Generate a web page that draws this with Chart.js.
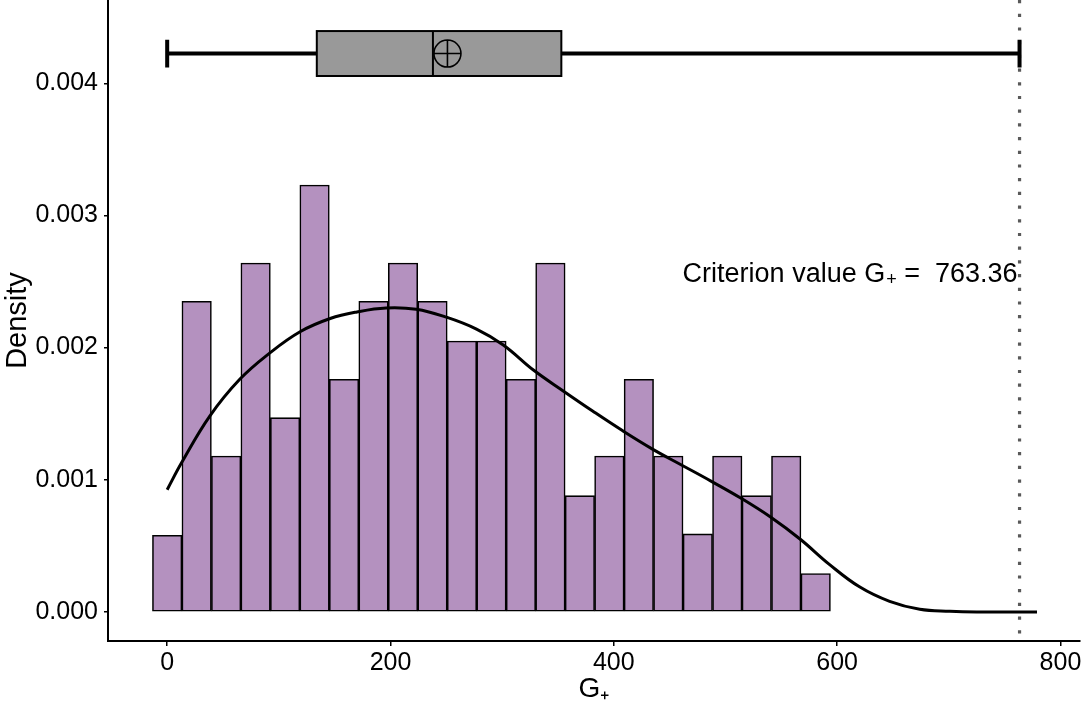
<!DOCTYPE html>
<html>
<head>
<meta charset="utf-8">
<script src="https://cdn.jsdelivr.net/npm/chart.js@4.4.0/dist/chart.umd.min.js"></script>
<style>
  body { margin: 0; background: #fff; }
  #chart { display: block; }
</style>
</head>
<body>
<canvas id="chart" width="1084" height="706"></canvas>
<script>
// histogram bins (mid points) and their densities
const binMids = [0, 26.4, 52.8, 79.2, 105.6, 132, 158.4, 184.8, 211.2, 237.6, 264, 290.4,
  316.8, 343.2, 369.6, 396, 422.4, 448.8, 475.2, 501.6, 528, 554.4, 580.8];
const binDensity = [0.00058, 0.00235, 0.00118, 0.00264, 0.00147, 0.00323, 0.00176, 0.00235,
  0.00264, 0.00235, 0.00205, 0.00205, 0.00176, 0.00264, 0.00088, 0.00118, 0.00176, 0.00118,
  0.00059, 0.00118, 0.00088, 0.00118, 0.00029];

// kernel density curve
const curveX = [0, 13, 38, 65, 92, 119, 146, 170, 196, 223, 250, 277, 301, 328, 355, 381,
  408, 435, 461, 487, 514, 540, 567, 593, 620, 647, 674, 701, 725, 779];
const curveY = [0.000925, 0.00113, 0.00148, 0.00176, 0.00196, 0.00212, 0.00222, 0.00227,
  0.0023, 0.00229, 0.00223, 0.00214, 0.00202, 0.00183, 0.00167, 0.00152, 0.00137, 0.00123,
  0.00111, 0.00099, 0.00086, 0.00072, 0.00055, 0.00036, 0.00019, 0.00008, 0.00002,
  0.000005, 0, 0];

// box plot: min, q1, median, q3, max, and the mean
const boxFive = [0, 134, 238, 353, 763.36];
const boxMean = 251;
const criterion = 763.36;

const xTicks = [0, 200, 400, 600, 800];
const yTicks = [0, 0.001, 0.002, 0.003, 0.004];

const FONT = "'Liberation Sans', Arial, sans-serif";
const boxMidY = 0.004225;
const boxHalf = 0.00017;
const capHalf = 0.000105;

const overlay = {
  id: "overlay",
  beforeDatasetsDraw(chart) {
    const { ctx, chartArea, scales: { x } } = chart;
    const cx = x.getPixelForValue(criterion);
    ctx.save();
    ctx.strokeStyle = "#595959";
    ctx.lineWidth = 3.2;
    ctx.setLineDash([3.2, 10.5]);
    ctx.beginPath();
    ctx.moveTo(cx, chartArea.top);
    ctx.lineTo(cx, chartArea.bottom);
    ctx.stroke();
    ctx.restore();
  },
  afterDatasetsDraw(chart) {
    const { ctx, scales: { x, y } } = chart;
    const px = (v) => x.getPixelForValue(v);
    const py = (v) => y.getPixelForValue(v);
    ctx.save();
    // whiskers
    ctx.strokeStyle = "#000";
    ctx.lineWidth = 4;
    ctx.beginPath();
    ctx.moveTo(px(boxFive[0]), py(boxMidY));
    ctx.lineTo(px(boxFive[1]), py(boxMidY));
    ctx.moveTo(px(boxFive[3]), py(boxMidY));
    ctx.lineTo(px(boxFive[4]), py(boxMidY));
    ctx.moveTo(px(boxFive[0]), py(boxMidY - capHalf));
    ctx.lineTo(px(boxFive[0]), py(boxMidY + capHalf));
    ctx.moveTo(px(boxFive[4]), py(boxMidY - capHalf));
    ctx.lineTo(px(boxFive[4]), py(boxMidY + capHalf));
    ctx.stroke();
    // box
    const bx = px(boxFive[1]);
    const bw = px(boxFive[3]) - bx;
    const by = py(boxMidY + boxHalf);
    const bh = py(boxMidY - boxHalf) - by;
    ctx.fillStyle = "#999999";
    ctx.fillRect(bx, by, bw, bh);
    ctx.lineWidth = 2;
    ctx.strokeRect(bx, by, bw, bh);
    ctx.beginPath();
    ctx.moveTo(px(boxFive[2]), by);
    ctx.lineTo(px(boxFive[2]), by + bh);
    ctx.stroke();
    // mean marker
    const mx = px(boxMean), my = py(boxMidY), r = 13.5;
    ctx.lineWidth = 1.6;
    ctx.beginPath();
    ctx.arc(mx, my, r, 0, Math.PI * 2);
    ctx.moveTo(mx - r, my); ctx.lineTo(mx + r, my);
    ctx.moveTo(mx, my - r); ctx.lineTo(mx, my + r);
    ctx.stroke();

    // criterion label, right aligned against the dotted line
    const tx = px(criterion) - 2;
    const ty = py(0.00255);
    ctx.fillStyle = "#000";
    ctx.textBaseline = "middle";
    ctx.textAlign = "right";
    ctx.font = "27px " + FONT;
    const tail = " =  763.36";
    ctx.fillText(tail, tx, ty);
    let cur = tx - ctx.measureText(tail).width;
    ctx.font = "18px " + FONT;
    ctx.fillText("+", cur, ty + 5);
    cur -= ctx.measureText("+").width + 1;
    ctx.font = "27px " + FONT;
    ctx.fillText("Criterion value G", cur, ty);
    ctx.restore();
  },
};

new Chart(document.getElementById("chart"), {
  type: "bar",
  data: {
    datasets: [
      {
        type: "line",
        data: curveX.map((v, i) => ({ x: v, y: curveY[i] })),
        borderColor: "#000",
        borderWidth: 3,
        pointRadius: 0,
        tension: 0.4,
        order: 0,
      },
      {
        type: "bar",
        data: binMids.map((v, i) => ({ x: v, y: binDensity[i] })),
        backgroundColor: "#b491bf",
        borderColor: "#000",
        borderWidth: 1.6,
        borderSkipped: false,
        barPercentage: 1,
        categoryPercentage: 1,
        order: 1,
      },
    ],
  },
  options: {
    responsive: false,
    animation: false,
    layout: { padding: { top: 0, right: 4, left: 0, bottom: 0 } },
    plugins: {
      legend: { display: false },
      tooltip: { enabled: false },
    },
    scales: {
      x: {
        type: "linear",
        min: -53,
        max: 817.5,
        offset: false,
        afterBuildTicks: (s) => { s.ticks = xTicks.map((v) => ({ value: v })); },
        afterFit: (s) => { s.height = 65; s.paddingLeft = 0; s.paddingRight = 0; },
        grid: { drawOnChartArea: false, offset: false, tickLength: 5, color: "#000", lineWidth: 1.5 },
        border: { color: "#000", width: 2 },
        ticks: { color: "#000", padding: 2, maxRotation: 0, font: { size: 25, family: FONT } },
        title: { display: true, text: "G₊", color: "#000", padding: 0, font: { size: 28, family: FONT } },
      },
      y: {
        min: -0.00022,
        max: 0.00463,
        afterBuildTicks: (s) => { s.ticks = yTicks.map((v) => ({ value: v })); },
        afterFit: (s) => { s.width = 108; s.paddingTop = 0; s.paddingBottom = 0; },
        grid: { drawOnChartArea: false, tickLength: 4, color: "#000", lineWidth: 1.5 },
        border: { color: "#000", width: 2 },
        ticks: { color: "#000", padding: 6, callback: (v) => v.toFixed(3), font: { size: 25, family: FONT } },
        title: { display: true, text: "Density", color: "#000", padding: { top: 1, bottom: 0 }, font: { size: 29, family: FONT } },
      },
    },
  },
  plugins: [overlay],
});
</script>
</body>
</html>
